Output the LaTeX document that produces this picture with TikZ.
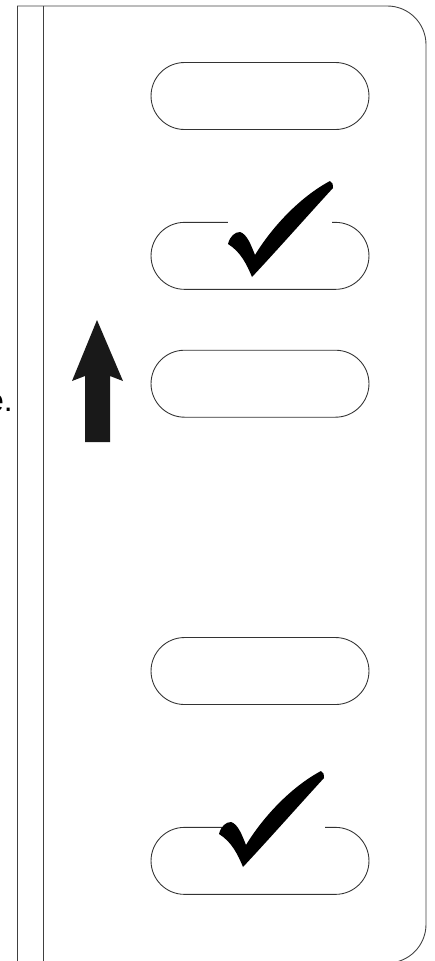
\documentclass[tikz,border=0pt]{standalone}
\usepackage{fontspec}
\setsansfont{Liberation Sans}
\usetikzlibrary{shapes.misc, positioning}

\begin{document}
\begin{tikzpicture}[
    x=0.02cm, y=-0.02cm,
    frame/.style={draw=black!75, line width=0.5pt},
    pill/.style={rounded rectangle, draw=black!80, line width=0.5pt,
                 minimum width=4.36cm, minimum height=1.34cm, inner sep=0pt},
    gap/.style={fill=white},
    checkmark/.pic={
      \fill[black] (0,0) .. controls (-5,-12) and (-11,-25) .. (-24,-33)
        .. controls (-22,-41) and (-17,-45) .. (-12,-45)
        .. controls (-5,-43) and (-1,-32) .. (3,-22)
        .. controls (20,-50) and (48,-80) .. (78,-96)
        .. controls (80,-95) and (82,-92) .. (81,-89)
        .. controls (58,-64) and (28,-30) .. (0,0) -- cycle;
    },
    node distance=1.84cm
  ]
  \useasboundingbox (0,0) rectangle (435,961);

  % page edge and binding
  \draw[frame] (17,970) -- (17,6);
  \draw[frame, rounded corners=22] (17,6) -- (426,6) -- (426,963) -- (17,963);
  \draw[frame] (43,6) -- (43,970);

  \node[font=\sffamily\fontsize{18}{20}\selectfont, anchor=base east, inner sep=0pt]
    (cut) at (13,411) {e.};

  \node[pill] (opt1) at (260,96) {};
  \node[pill, below=of opt1]        (opt2) {};
  \node[pill, below=1.2cm of opt2]  (opt3) {};
  \node[pill, below=4.39cm of opt3] (opt4) {};
  \node[pill, below=2.44cm of opt4] (opt5) {};

  \fill[black!90] (85,442) -- (85,376) -- (72,381) -- (97,320)
    -- (123,381) -- (110,376) -- (110,442) -- cycle;

  \fill[gap] (228,217) rectangle (332,226);
  \pic (chk1) at (252,277) {checkmark};

  \fill[gap] (222,821) rectangle (325,830);
  \pic (chk2) at (243,867) {checkmark};

\end{tikzpicture}
\end{document}
